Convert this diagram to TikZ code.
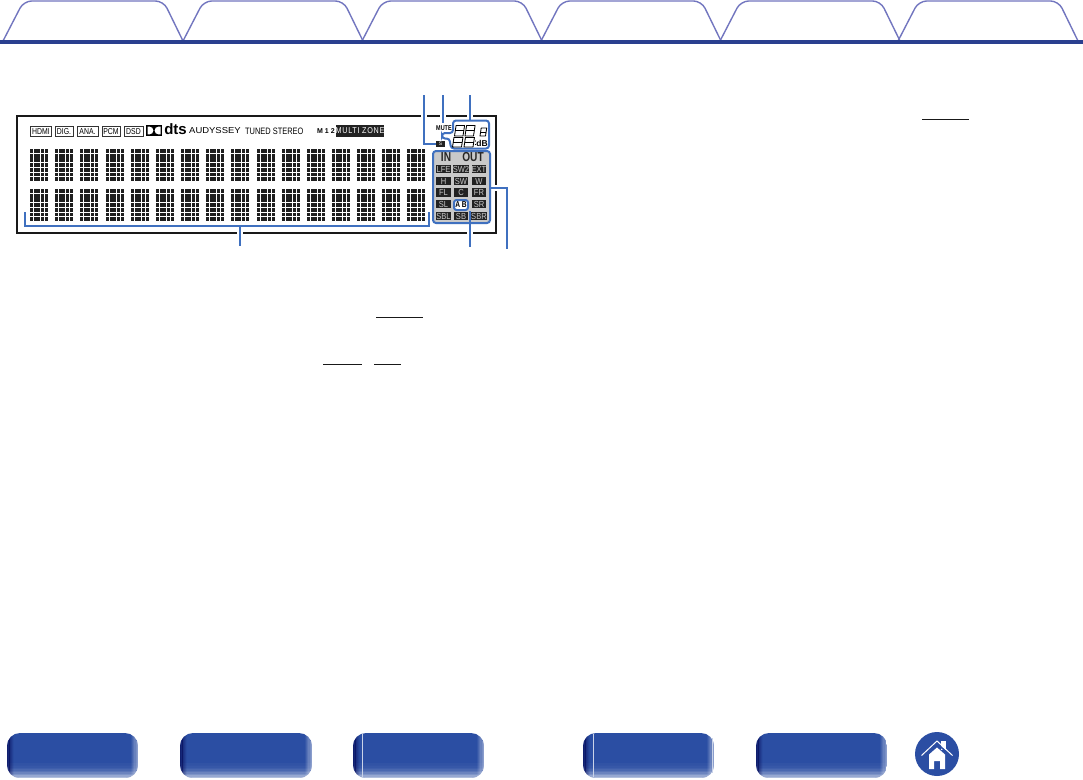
\documentclass[tikz,border=0pt]{standalone}
\usepackage{fontspec}
\setmainfont{Liberation Sans}
\newfontfamily\narf[FakeStretch=.8]{Liberation Sans}
\newfontfamily\narb[FakeStretch=.78]{Liberation Sans Bold}
\newfontfamily\widf[FakeStretch=1.1]{Liberation Sans}
\newfontfamily\spcf[FakeStretch=.85,LetterSpace=8]{Liberation Sans}
\newfontfamily\cellf[FakeStretch=.86]{Liberation Sans}
\definecolor{tabline}{HTML}{7276BF}
\definecolor{baseblue}{HTML}{2A3F8F}
\definecolor{btn}{HTML}{2B4EA3}
\definecolor{callout}{HTML}{3F70BF}
\definecolor{cellgrey}{HTML}{C9C9C9}
\definecolor{celldark}{HTML}{222222}
\newcommand{\fsz}[1]{\fontsize{#1}{#1}\selectfont}
\newcommand{\dotchar}[2]{%
  \foreach \c in {0,...,4}{\foreach \r in {0,...,6}{%
    \fill[black!88] ({#1+\c*3.65},{#2+\r*4.72}) rectangle ++(3,3.8);}}}
\newcommand{\segeight}[4]{%
  \draw[line width=.85pt,line join=round] ({#1+.15*#4},#2) -- ({#1+#3+.15*#4},#2) -- ({#1+#3},{#2+#4}) -- (#1,{#2+#4}) -- cycle;
  \draw[line width=.85pt] ({#1+.075*#4},{#2+.5*#4}) -- ({#1+#3+.075*#4},{#2+.5*#4});}
\newcommand{\navbutton}[2]{%
  \begin{scope}
    \clip[rounded corners=13pt] (#1,733) rectangle (#2,778);
    \fill[btn] (#1,733) rectangle (#2,778);
    \foreach \i in {0,...,9}{\fill[white,opacity={0.03+\i*\i*0.0075}] (#1,{763+\i*1.5}) rectangle (#2,{764.6+\i*1.5});}
    \foreach \i in {0,...,5}{\fill[black!70!blue,opacity={0.6-\i*0.11}] ({#1+\i*1.2},733) rectangle ({#1+\i*1.2+1.3},778);}
    \foreach \i in {0,...,5}{\fill[white,opacity={0.45-\i*0.08}] ({#2-\i*1.2-1.3},733) rectangle ({#2-\i*1.2},778);}
  \end{scope}}
\tikzset{
  tabpath/.style={draw=tabline,line width=1.4pt,rounded corners=8pt},
  call/.style={draw=callout,line width=2pt},
  halo/.style={draw=white,line width=6pt},
  panelframe/.style={draw=black!90,line width=2pt},
  tagbox/.style={draw=black!80,fill=white,line width=.9pt,inner sep=0pt,minimum height=10pt,text=black,font=\narf\fsz{8.6}},
  cell/.style={fill=celldark,text=cellgrey,inner sep=0pt,minimum width=14.5pt,minimum height=8.5pt,font=\cellf\fsz{8.8}},
  ulink/.style={draw=black!90,line width=1pt},
  plain/.style={inner sep=0pt}
}
\begin{document}
\begin{tikzpicture}[x=1pt,y=-1pt]
\useasboundingbox (0,0) rectangle (1083,779);
\fill[white] (0,0) rectangle (1083,779);
% tabs
\foreach \a in {3,183,362,541,720,898}{
  \draw[tabpath] (\a,41) -- ({\a+20.7},1) -- ({\a+160.5},1) -- ({\a+180},41);}
\fill[baseblue] (0,40) rectangle (1083,44);
% panel
\node[panelframe,minimum width=479pt,minimum height=117pt,inner sep=0pt] (panel) at (256.5,174.5) {};
% dot matrix
\foreach \x in {30,55,80,106,131,156,181,206,231,257,282,307,332,357,382,407}{
  \dotchar{\x}{149}\dotchar{\x}{189}}
% tag row
\node[tagbox,minimum width=21pt] (hdmi) at (41,131.5) {HDMI};
\node[tagbox,minimum width=18pt] (dig) at (64,131.5) {DIG.};
\node[tagbox,minimum width=21pt] (ana) at (87.5,131.5) {ANA.};
\node[tagbox,minimum width=18pt] (pcm) at (111,131.5) {PCM};
\node[tagbox,minimum width=19pt] (dsd) at (133.5,131.5) {DSD};
\node[fill=black,minimum width=16pt,minimum height=11pt,inner sep=0pt] (dolby) at (154,130.5) {};
\fill[white] (147.5,126.6) -- (149.5,126.6) arc (-90:90:3.9) -- (147.5,134.4) -- cycle;
\fill[white] (160.5,126.6) -- (158.5,126.6) arc (270:90:3.9) -- (160.5,134.4) -- cycle;
\node[plain,font=\fsz{15}\bfseries] (dts) at (175.5,129.5) {dts};
\node[plain,font=\widf\fsz{8.6},anchor=west] (aud) at (189,131) {AUDYSSEY};
\node[plain,font=\narf\fsz{9.3},anchor=west] (tuned) at (245,131) {TUNED STEREO};
\node[plain,font=\fsz{7}\bfseries,anchor=west] (m12) at (317,131) {M 1 2};
\node[fill=celldark,text=white,inner sep=0pt,minimum width=48pt,minimum height=12pt,font=\spcf\fsz{8.5}] (zone) at (360,131) {MULTI ZONE};
% right column
\node[plain,font=\narb\fsz{7},anchor=west] (mute) at (436,128.5) {MUTE};
\node[fill=celldark,text=white,inner sep=0pt,minimum width=9pt,minimum height=6pt,font=\fsz{5}] (sbox) at (440.5,144) {S};
% callouts
\coordinate (c1top) at (424,95); \coordinate (c1bend) at (424,144);
\coordinate (c2top) at (443,95); \coordinate (c2end) at (443,123);
\coordinate (c3top) at (470,95); \coordinate (c3end) at (470,120.5);
\coordinate (c4end) at (240,246); \coordinate (c4foot) at (240,226);
\coordinate (c5end) at (470,247);
\coordinate (c6bend) at (507,188); \coordinate (c6end) at (507,249);
\draw[halo] (424,112) -- (424,120);
\draw[halo] (443,112) -- (443,120);
\draw[halo] (470,112) -- (470,120);
\draw[halo] (240,229) -- (240,237);
\draw[halo] (470,229) -- (470,237);
\draw[halo] (492,188) -- (500,188);
\draw[call] (c1top) -- (c1bend) -- (sbox.west);
\draw[call] (c2top) -- (c2end);
\draw[call] (c3top) -- (c3end);
% display box
\path[draw=callout,fill=white,line width=2pt,rounded corners=3pt]
  (453,133) -- (453,120.5) -- (489,120.5) -- (489,148.5) -- (451,148.5) -- (449.5,138.5) -- (442,138.5) -- (442,133) -- cycle;
\segeight{454.5}{125.5}{8.5}{10.5}\segeight{465}{125.5}{8.5}{10.5}
\segeight{480}{128}{5.5}{8}
\segeight{452.5}{137.5}{9}{9.5}\segeight{464}{137.5}{9}{9.5}
\node[plain,font=\fsz{8.5}\bfseries] (db) at (482,143.5) {dB};
\fill (475.5,141) circle (.6) (475.5,144.5) circle (.6);
% IN/OUT box
\node[draw=callout,fill=cellgrey,line width=2pt,rounded corners=3pt,minimum width=57pt,minimum height=72pt,inner sep=0pt] (inout) at (461.5,187) {};
\node[plain,font=\narb\fsz{13},text=black!85] (in) at (446,157) {IN};
\node[plain,font=\narb\fsz{13},text=black!85] (out) at (473,157) {OUT};
\node[cell] (lfe) at (443.5,169) {LFE};
\node[cell] (sw2) at (461,169) {SW2};
\node[cell] (ext) at (479,169) {EXT};
\node[cell] (h) at (443.5,181) {H};
\node[cell] (sw) at (461,181) {SW};
\node[cell] (w) at (479,181) {W};
\node[cell] (fl) at (443.5,192.5) {FL};
\node[cell] (cc) at (461,192.5) {C};
\node[cell] (fr) at (479,192.5) {FR};
\node[cell] (sl) at (443.5,204) {SL};
\node[draw=callout,fill=white,line width=2pt,rounded corners=2.5pt,inner sep=0pt,minimum width=14pt,minimum height=10pt,text=black,font=\narb\fsz{8.5}] (ab) at (461,205) {A B};
\node[cell] (sr) at (479,204) {SR};
\node[cell] (sbl) at (443.5,216) {SBL};
\node[cell] (sb) at (461,216) {SB};
\node[cell] (sbr) at (479,216) {SBR};
\draw[call] (ab.south -| c5end) -- (c5end);
\draw[call] (inout.east |- c6bend) -- (c6bend) -- (c6end);
% bottom bracket
\draw[call] (25,212) -- (25,226) -- (429,226) -- (429,212);
\draw[call] (c4foot) -- (c4end);
% underlines
\draw[ulink] (376,317) -- (423,317);
\draw[ulink] (323,364) -- (362,364);
\draw[ulink] (374,364) -- (401,364);
\draw[ulink] (922,119) -- (969,119);
% bottom buttons
\navbutton{7}{138}
\navbutton{180}{312}
\navbutton{353}{484}
\navbutton{583}{714}
\navbutton{756}{887}
\draw[white!75!btn,line width=.5pt] (362,734) -- (362,777) (593,734) -- (593,777) (712,738) -- (712,773);
% home
\node[circle,fill=btn,minimum size=44pt,inner sep=0pt] (home) at (937,754) {};
\fill[white] (929,754.5) -- (937,747.5) -- (945,754.5) -- (945,769) -- (940,769) -- (940,761) -- (934,761) -- (934,769) -- (929,769) -- cycle;
\fill[white] (940.5,741) rectangle (946,750);
\draw[btn,line width=1.6pt] (923,756) -- (937,743.5) -- (951,756);
\draw[white,line width=1pt,line join=miter] (921.5,755.5) -- (937,741) -- (952.5,755.5);
\end{tikzpicture}
\end{document}
